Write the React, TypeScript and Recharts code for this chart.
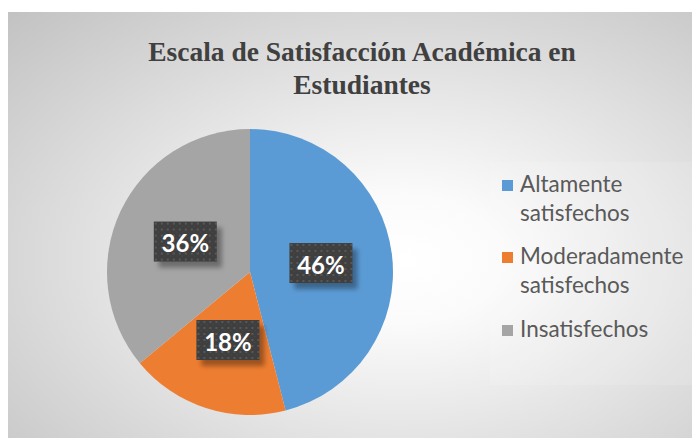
import React from 'react';
import { PieChart, Pie, Cell, Legend } from 'recharts';

const title = ['Escala de Satisfacción Académica en', 'Estudiantes'];
const categories = ['Altamente satisfechos', 'Moderadamente satisfechos', 'Insatisfechos'];
const legendLines = [['Altamente', 'satisfechos'], ['Moderadamente', 'satisfechos'], ['Insatisfechos']];
const values = [46, 18, 36];
const colors = ['#5B9BD5', '#ED7D31', '#A5A5A5'];

const data = categories.map((name, i) => ({ name, value: values[i] }));

const RAD = Math.PI / 180;

const renderLabel = (props: any) => {
  const { cx, cy, midAngle, outerRadius, value, index } = props;
  const r = outerRadius * 0.5;
  const x = cx + r * Math.cos(-midAngle * RAD);
  const y = cy + r * Math.sin(-midAngle * RAD);
  const w = 63;
  const h = 40;
  return (
    <g>
      <defs>
        <pattern id={`dots${index}`} x={x - w / 2} y={y - h / 2} width="6" height="6" patternUnits="userSpaceOnUse">
          <rect width="6" height="6" fill="#3f3f3f" />
          <rect x="1" y="1" width="2" height="2" fill="#585858" />
          <rect x="4" y="4" width="1" height="1" fill="#4c4c4c" />
        </pattern>
        <filter id={`blur${index}`} x="-30%" y="-30%" width="160%" height="160%">
          <feGaussianBlur stdDeviation="2.5" />
        </filter>
      </defs>
      <rect x={x - w / 2 + 5} y={y - h / 2 + 6} width={w} height={h} fill="rgba(0,0,0,0.35)" filter={`url(#blur${index})`} />
      <rect x={x - w / 2} y={y - h / 2} width={w} height={h} fill={`url(#dots${index})`} />
      <text x={x} y={y + 1} textAnchor="middle" dominantBaseline="central" fill="#ffffff" fontFamily="Lato, 'Open Sans', sans-serif" fontWeight="bold" fontSize={24}>
        {value}%
      </text>
    </g>
  );
};

const baselines = [[30, 59], [102, 131], [175]];

const renderLegend = () => (
  <svg width={210} height={223} style={{ display: 'block' }}>
    <rect x={0} y={0} width={210} height={223} fill="rgba(255,255,255,0.12)" />
    {legendLines.map((lines, i) => (
      <g key={i}>
        <rect x={12} y={baselines[i][0] - 12} width={11} height={11} fill={colors[i]} />
        {lines.map((t, j) => (
          <text key={j} x={30} y={baselines[i][j]} fill="#595959" fontFamily="Lato, 'Open Sans', sans-serif" fontSize={22.5}>
            {t}
          </text>
        ))}
      </g>
    ))}
  </svg>
);

export default function App() {
  return (
    <div style={{ paddingTop: 4 }}>
      <div
        style={{
          position: 'relative',
          width: 692,
          height: 426,
          background: 'radial-gradient(ellipse farthest-corner at 57% 58%, #ffffff 0%, #fbfbfb 18%, #c2c2c2 100%)',
          overflow: 'hidden',
        }}
      >
        <div
          style={{
            position: 'absolute',
            left: 0,
            top: 23,
            width: 708,
            textAlign: 'center',
            fontFamily: '"Liberation Serif", serif',
            fontWeight: 700,
            fontSize: 27.5,
            lineHeight: '33px',
            color: '#404040',
          }}
        >
          <div>{title[0]}</div>
          <div>{title[1]}</div>
        </div>
        <div style={{ position: 'absolute', left: 0, top: 0 }}>
          <PieChart width={692} height={426}>
            <Pie
              data={data}
              dataKey="value"
              nameKey="name"
              cx={237}
              cy={255}
              outerRadius={143}
              startAngle={90}
              endAngle={-270}
              stroke="none"
              labelLine={false}
              label={renderLabel}
              isAnimationActive={false}
            >
              {data.map((d, i) => (
                <Cell key={d.name} fill={colors[i]} />
              ))}
            </Pie>
            <Legend
              content={renderLegend}
              wrapperStyle={{ position: 'absolute', left: 482, top: 150, width: 210, height: 223 }}
            />
          </PieChart>
        </div>
      </div>
    </div>
  );
}
